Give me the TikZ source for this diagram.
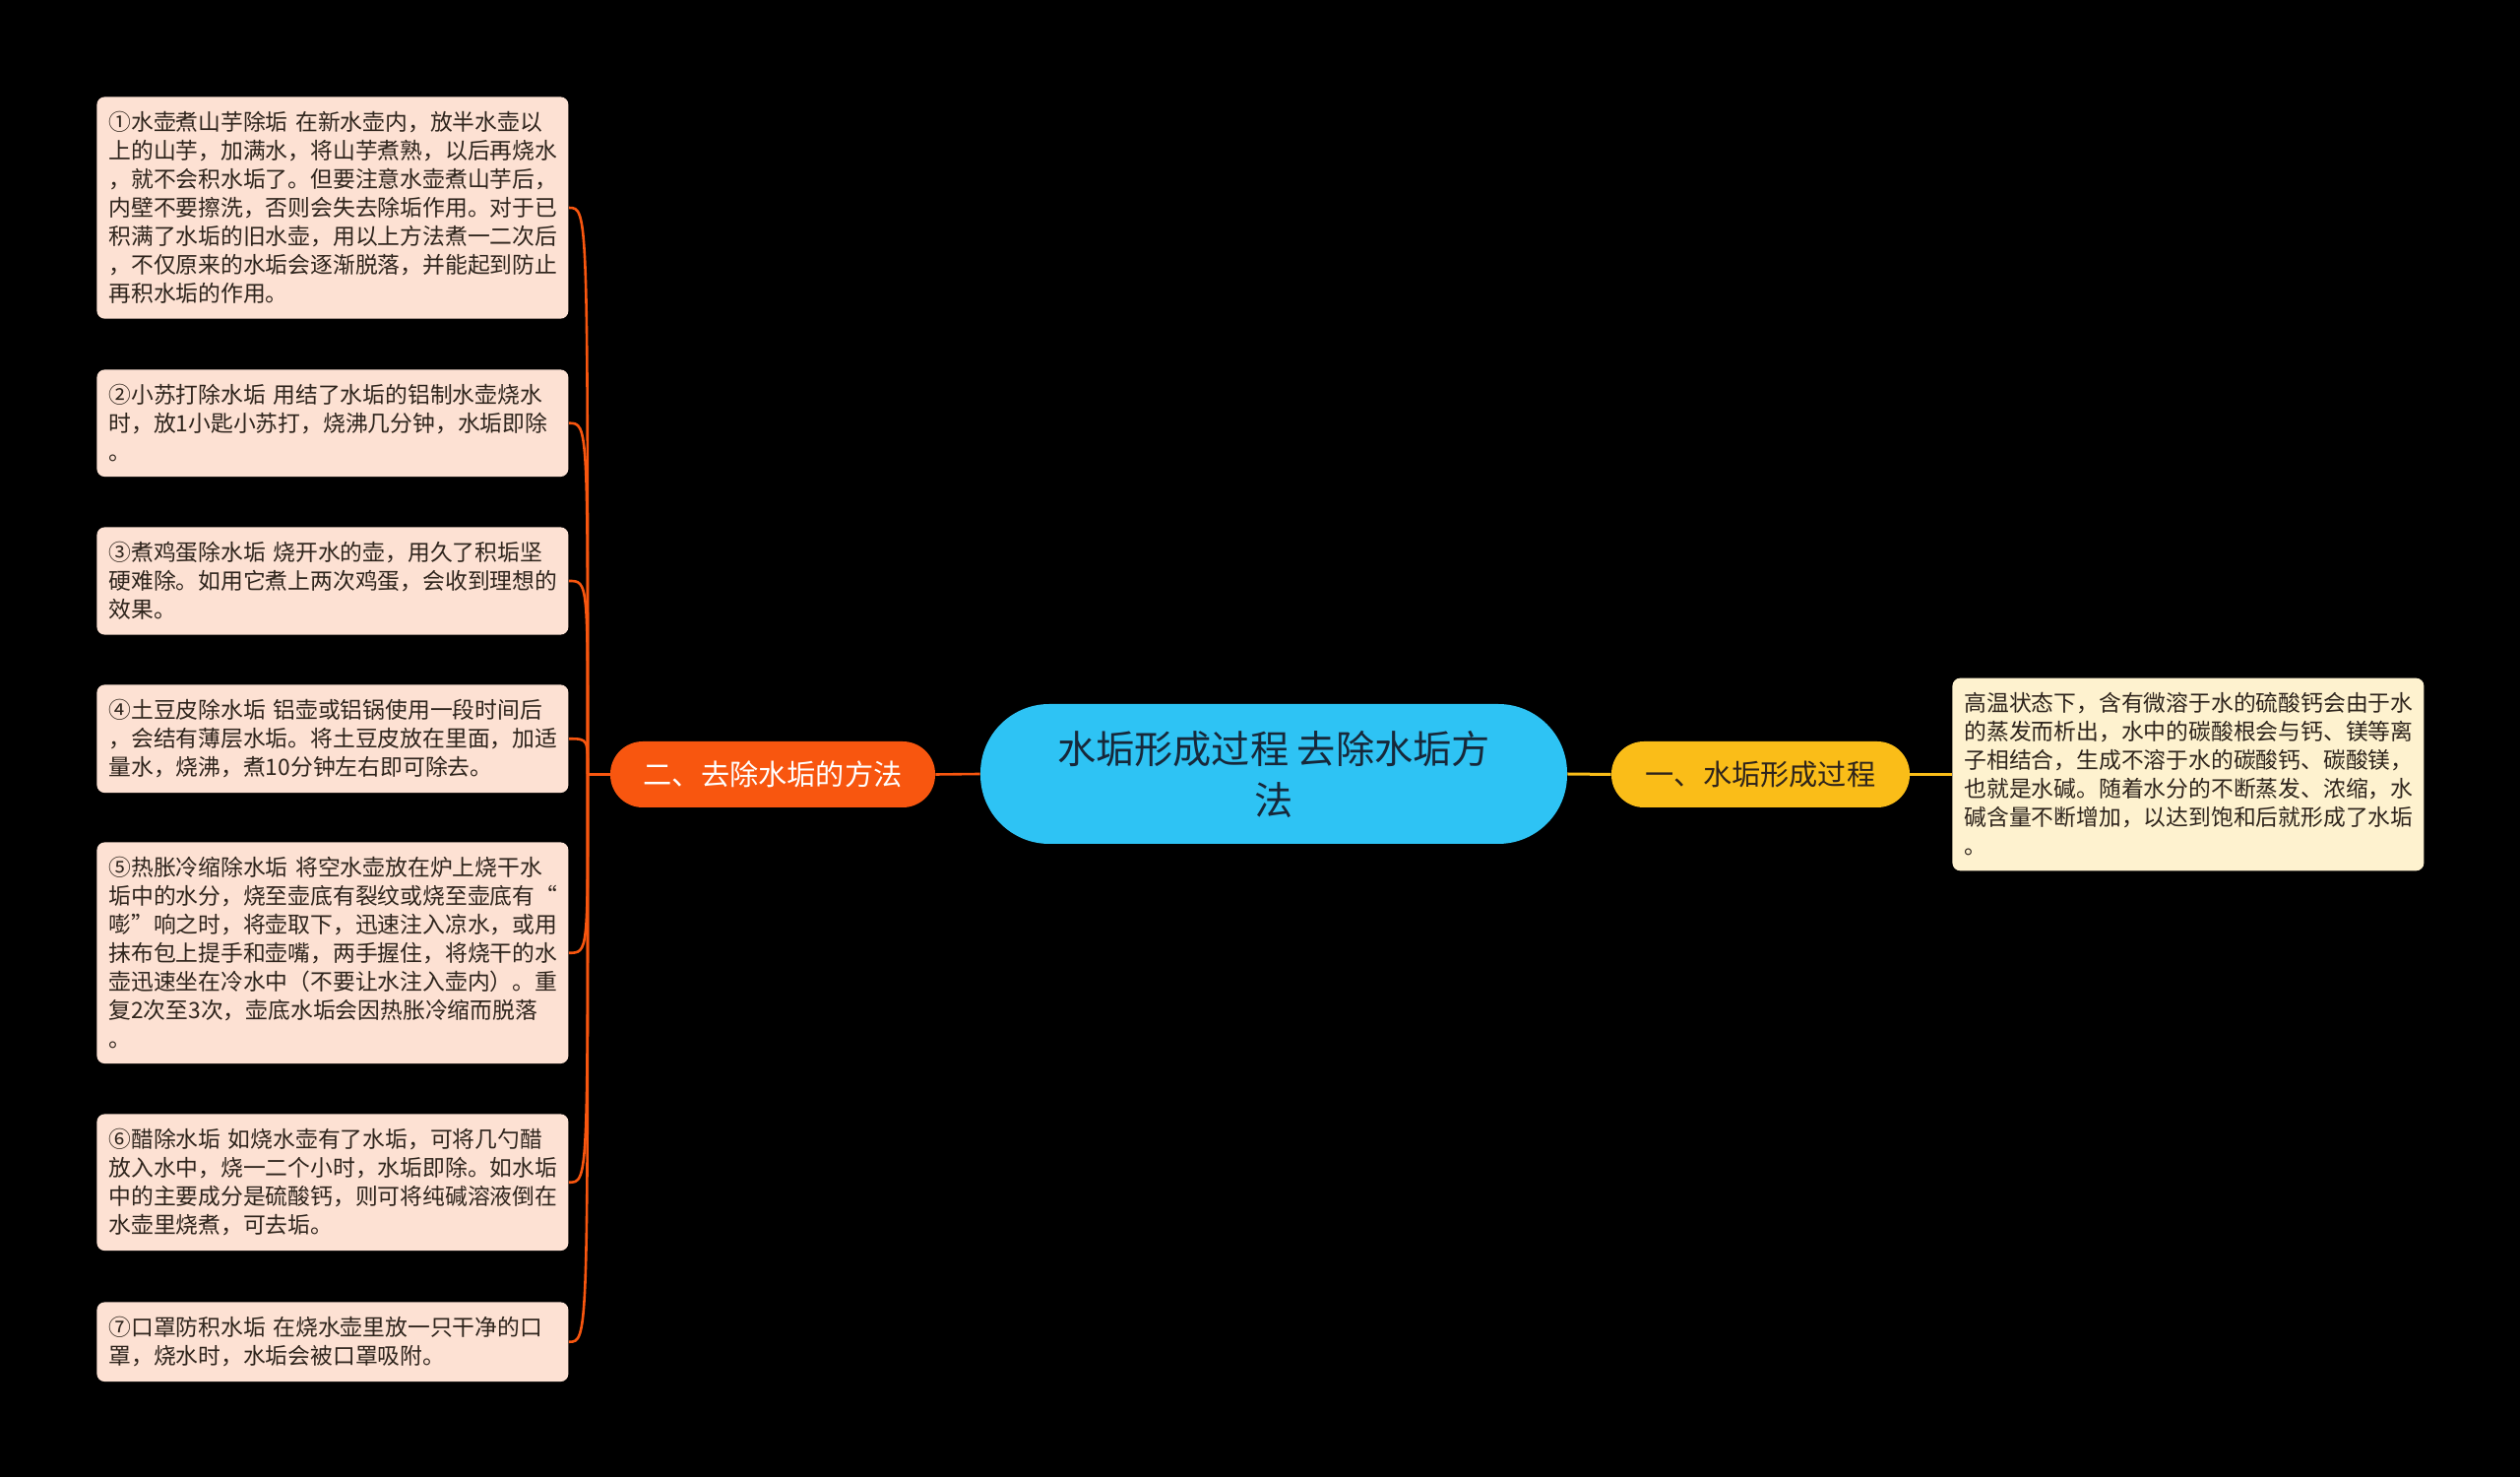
\documentclass[tikz,border=0pt]{standalone}
\usepackage{fontspec}
\setmainfont{Noto Sans CJK SC}
\usepackage{xcolor}

\definecolor{rootblue}{HTML}{2EC3F4}
\definecolor{methodorange}{HTML}{F8560F}
\definecolor{causeyellow}{HTML}{FABD18}
\definecolor{leafpeach}{HTML}{FDE1D3}
\definecolor{leafcream}{HTML}{FEF2CF}
\definecolor{inkdark}{HTML}{2E241C}
\definecolor{rootink}{HTML}{17283A}

\begin{document}
\begin{tikzpicture}[x=0.5pt, y=0.5pt,
    leaf/.style={anchor=north west, rounded corners=4pt, text width=227.5pt, align=left,
        inner xsep=6pt, inner ysep=7.5pt, text=inkdark,
        font=\fontsize{11.4pt}{14.5pt}\selectfont},
    branch/.style={rounded corners=16.5pt, minimum height=33.5pt,
        font=\fontsize{14.6pt}{17pt}\selectfont},
    orangelink/.style={methodorange, line width=1.3pt},
    yellowlink/.style={causeyellow, line width=1.5pt}]

    \fill [black] (0,0) rectangle (2560,1500);
    \useasboundingbox (0,0) rectangle (2560,1500);

    % centre
    \node [fill=rootblue, rounded corners=35pt, minimum width=298pt, minimum height=71pt,
        align=center, text=rootink, font=\fontsize{19.6pt}{26pt}\selectfont]
        (root) at (1294,714) {水垢形成过程 去除水垢方\\法};

    % branches
    \node [branch, fill=methodorange, text=white, minimum width=165pt] (methods) at (785,713.5) {二、去除水垢的方法};
    \node [branch, fill=causeyellow, text=inkdark, minimum width=151.5pt] (cause) at (1788.5,713.5) {一、水垢形成过程};

    % right leaf
    \node [leaf, anchor=west, fill=leafcream] (causetext) at (1983,713.5) {高温状态下，含有微溶于水的硫酸钙会由于水\\的蒸发而析出，水中的碳酸根会与钙、镁等离\\子相结合，生成不溶于水的碳酸钙、碳酸镁，\\也就是水碱。随着水分的不断蒸发、浓缩，水\\碱含量不断增加，以达到饱和后就形成了水垢\\。};

    % left leaves
    \node [leaf, fill=leafpeach] (m1) at (98,1402) {①水壶煮山芋除垢 在新水壶内，放半水壶以\\上的山芋，加满水，将山芋煮熟，以后再烧水\\，就不会积水垢了。但要注意水壶煮山芋后，\\内壁不要擦洗，否则会失去除垢作用。对于已\\积满了水垢的旧水壶，用以上方法煮一二次后\\，不仅原来的水垢会逐渐脱落，并能起到防止\\再积水垢的作用。};
    \node [leaf, fill=leafpeach] (m2) at (98,1125) {②小苏打除水垢 用结了水垢的铝制水壶烧水\\时，放1小匙小苏打，烧沸几分钟，水垢即除\\。};
    \node [leaf, fill=leafpeach] (m3) at (98,965) {③煮鸡蛋除水垢 烧开水的壶，用久了积垢坚\\硬难除。如用它煮上两次鸡蛋，会收到理想的\\效果。};
    \node [leaf, fill=leafpeach] (m4) at (98,805) {④土豆皮除水垢 铝壶或铝锅使用一段时间后\\，会结有薄层水垢。将土豆皮放在里面，加适\\量水，烧沸，煮10分钟左右即可除去。};
    \node [leaf, fill=leafpeach] (m5) at (98,645) {⑤热胀冷缩除水垢 将空水壶放在炉上烧干水\\垢中的水分，烧至壶底有裂纹或烧至壶底有“\\嘭”响之时，将壶取下，迅速注入凉水，或用\\抹布包上提手和壶嘴，两手握住，将烧干的水\\壶迅速坐在冷水中（不要让水注入壶内）。重\\复2次至3次，壶底水垢会因热胀冷缩而脱落\\。};
    \node [leaf, fill=leafpeach] (m6) at (98,369) {⑥醋除水垢 如烧水壶有了水垢，可将几勺醋\\放入水中，烧一二个小时，水垢即除。如水垢\\中的主要成分是硫酸钙，则可将纯碱溶液倒在\\水壶里烧煮，可去垢。};
    \node [leaf, fill=leafpeach] (m7) at (98,178) {⑦口罩防积水垢 在烧水壶里放一只干净的口\\罩，烧水时，水垢会被口罩吸附。};

    % connectors
    \coordinate (hub) at (597,713.5);
    \draw [yellowlink] (root.east) -- (cause.west);
    \draw [yellowlink] (cause.east) -- (causetext.west);
    \draw [orangelink] (root.west) -- (methods.east);
    \draw [orangelink] (methods.west) -- (hub);
    \draw [orangelink] (m1.east) .. controls +(10pt,0) and (hub |- m1.east) .. (hub);
    \draw [orangelink] (m2.east) .. controls +(10pt,0) and (hub |- m2.east) .. (hub);
    \draw [orangelink] (m3.east) .. controls +(10pt,0) and (hub |- m3.east) .. (hub);
    \draw [orangelink] (m4.east) .. controls +(10pt,0) and (hub |- m4.east) .. (hub);
    \draw [orangelink] (m5.east) .. controls +(10pt,0) and (hub |- m5.east) .. (hub);
    \draw [orangelink] (m6.east) .. controls +(10pt,0) and (hub |- m6.east) .. (hub);
    \draw [orangelink] (m7.east) .. controls +(10pt,0) and (hub |- m7.east) .. (hub);

\end{tikzpicture}
\end{document}
